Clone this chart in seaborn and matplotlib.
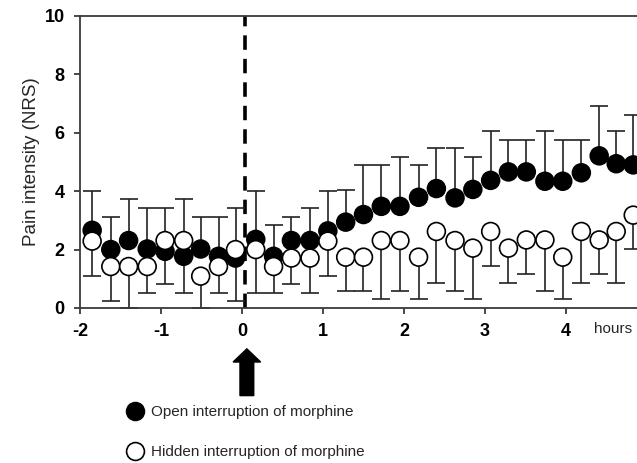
import pandas as pd
import matplotlib.pyplot as plt
import seaborn as sns
import numpy as np

# Data (hours relative to interruption)
hours = [-1.85, -1.62, -1.40, -1.17, -0.95, -0.72, -0.51, -0.29, -0.08,
         0.17, 0.39, 0.61, 0.84, 1.06, 1.28, 1.50, 1.72, 1.95, 2.18, 2.40,
         2.63, 2.85, 3.07, 3.29, 3.51, 3.74, 3.96, 4.19, 4.41, 4.62, 4.83]

open_mean = [2.66, 2.00, 2.31, 2.02, 1.94, 1.77, 2.02, 1.77, 1.71,
             2.35, 1.77, 2.31, 2.31, 2.64, 2.94, 3.20, 3.48, 3.48, 3.79, 4.09,
             3.77, 4.06, 4.37, 4.66, 4.66, 4.34, 4.34, 4.63, 5.21, 4.94, 4.90]
open_upper = [4.00, 3.13, 3.72, 3.42, 3.42, 3.72, 3.13, 3.13, 3.42,
              4.00, 2.84, 3.13, 3.42, 4.00, 4.03, 4.90, 4.90, 5.18, 4.90, 5.47,
              5.47, 5.18, 6.07, 5.76, 5.76, 6.07, 5.76, 5.76, 6.91, 6.07, 6.60]

hidden_mean = [2.29, 1.42, 1.42, 1.42, 2.31, 2.31, 1.09, 1.42, 2.00,
               2.00, 1.42, 1.71, 1.71, 2.29, 1.74, 1.74, 2.31, 2.31, 1.74, 2.62,
               2.31, 2.05, 2.62, 2.05, 2.33, 2.33, 1.74, 2.62, 2.33, 2.62, 3.18]
hidden_lower = [1.10, 0.23, 0.00, 0.52, 0.81, 0.52, 0.00, 0.52, 0.23,
                0.52, 0.52, 0.81, 0.52, 1.10, 0.59, 0.59, 0.30, 0.59, 0.30, 0.87,
                0.59, 0.30, 1.45, 0.87, 1.16, 0.59, 0.30, 0.87, 1.16, 0.87, 2.02]

x_ticks = [-2, -1, 0, 1, 2, 3, 4]
y_ticks = [0, 2, 4, 6, 8, 10]

labels = ["Open interruption of morphine", "Hidden interruption of morphine"]

df = pd.concat([
    pd.DataFrame({"hours": hours, "pain": open_mean, "group": labels[0]}),
    pd.DataFrame({"hours": hours, "pain": hidden_mean, "group": labels[1]}),
], ignore_index=True)

sns.set_style("ticks")
plt.rcParams["font.family"] = ["Liberation Sans", "DejaVu Sans"]

fig = plt.figure(figsize=(6.37, 4.63), dpi=100)
ax = fig.add_axes([0.1256, 0.3348, 0.9155, 0.6307])

edge = "#3a3a3a"

# error bars (one-sided: up for open, down for hidden)
om = np.array(open_mean)
hm = np.array(hidden_mean)
ax.errorbar(hours, om, yerr=[np.zeros_like(om), np.array(open_upper) - om],
            fmt="none", ecolor="#222222", elinewidth=1.2, capsize=6.5,
            capthick=1.2, zorder=2)
ax.errorbar(hours, hm, yerr=[hm - np.array(hidden_lower), np.zeros_like(hm)],
            fmt="none", ecolor="#222222", elinewidth=1.2, capsize=6.5,
            capthick=1.2, zorder=2)

sns.scatterplot(data=df, x="hours", y="pain", hue="group", hue_order=labels,
                palette={labels[0]: "black", labels[1]: "white"},
                s=165, edgecolor="black", linewidth=1.2, zorder=3, ax=ax,
                legend=True)

# interruption line
ax.axvline(0.04, color="black", linestyle=(0, (4, 2.5)), linewidth=2.6, zorder=1)

ax.set_xlim(-2, 5.2)
ax.set_ylim(0, 10)
ax.set_xticks(x_ticks)
ax.set_yticks(y_ticks)
ax.set_xticklabels([str(t) for t in x_ticks], fontweight="bold", fontsize=13)
ax.set_yticklabels([str(t) for t in y_ticks], fontweight="bold", fontsize=13)
ax.tick_params(colors=edge, labelcolor="black", width=1.3, length=4, pad=7)
ax.set_xlabel("")
ax.set_ylabel("Pain intensity (NRS)", fontsize=13.5, labelpad=3)
for side in ["left", "bottom", "top"]:
    ax.spines[side].set_color(edge)
    ax.spines[side].set_linewidth(1.3)
ax.spines["right"].set_visible(False)

ax.text(4.35, -0.47, "hours", fontsize=11, ha="left", va="top")

# arrow marking the interruption
ax.arrow(0.06, -3.0, 0, 1.6, width=0.17, head_width=0.34, head_length=0.45,
         length_includes_head=True, color="black", clip_on=False)

handles, lbls = ax.get_legend_handles_labels()
ax.legend(handles, lbls, loc="upper left", bbox_to_anchor=(120 / 637, 1 - 405 / 463),
          bbox_transform=fig.transFigure, frameon=False, fontsize=11,
          handletextpad=0.05, labelspacing=1.7, borderaxespad=0, borderpad=0,
          markerscale=1.0)

plt.savefig("out.png", dpi=100)
